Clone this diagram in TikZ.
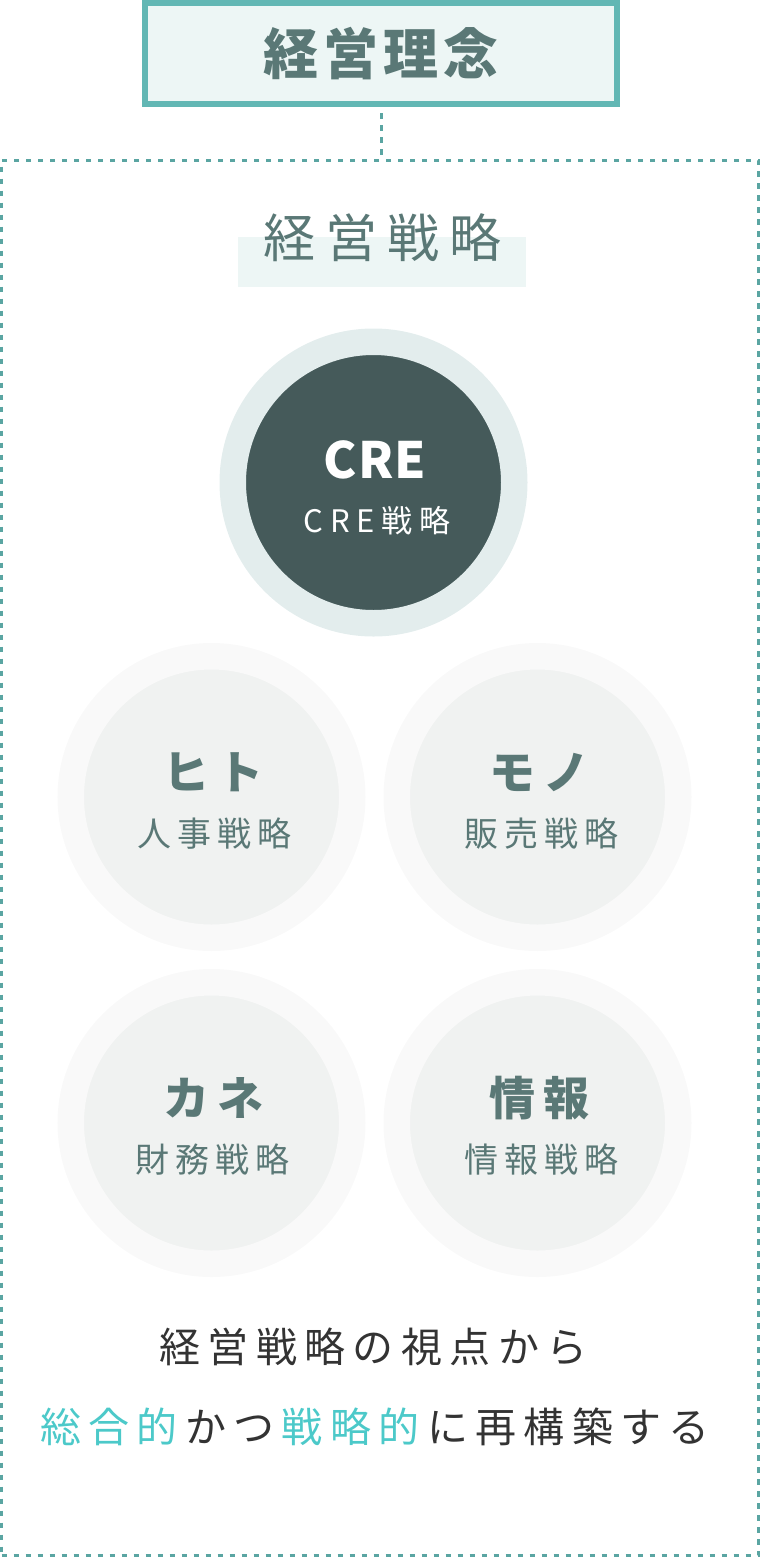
\documentclass[tikz,border=0pt]{standalone}
\usepackage{fontspec}
\usepackage{xcolor}
\newfontfamily\jp{Noto Sans CJK JP}
\newcommand{\fsz}[2]{\fontsize{#1}{#1}\selectfont\addfontfeatures{LetterSpace=#2}}
\definecolor{boxteal}{HTML}{62B7B4}
\definecolor{boxfill}{HTML}{EDF6F5}
\definecolor{dotteal}{HTML}{5AA5A2}
\definecolor{titlecol}{HTML}{5A7876}
\definecolor{creouter}{HTML}{E3EDED}
\definecolor{creinner}{HTML}{455A5A}
\definecolor{subouter}{HTML}{F9F9F9}
\definecolor{subinner}{HTML}{F0F2F1}
\definecolor{bodycol}{HTML}{333333}
\definecolor{accent}{HTML}{4CC9C9}

\begin{document}
\begin{tikzpicture}[x=1pt,y=-1pt,
    every node/.style={inner sep=0pt},
    rinenbox/.style={draw=boxteal,fill=boxfill,line width=6pt,minimum width=472pt,minimum height=101pt},
    waku/.style={draw=dotteal,line width=3pt,dash pattern=on 5.5pt off 6.5pt,minimum width=757pt,minimum height=1395.5pt},
    dotline/.style={draw=dotteal,line width=3pt,dash pattern=on 5.5pt off 6.5pt},
    ring/.style={circle,line width=26.5pt,minimum size=281.5pt},
    crering/.style={ring,draw=creouter,fill=creinner},
    subring/.style={ring,draw=subouter,fill=subinner},
    bigname/.style={text=titlecol,font=\jp\bfseries\fsz{46}{17}},
    subname/.style={text=titlecol,font=\jp\fsz{34}{17}}]
  \useasboundingbox (0,0) rectangle (760,1558);
  \node[waku] (waku) at (380,857.75) {};
  \node[rinenbox,text=titlecol,font=\jp\bfseries\fsz{55}{9}] (rinen) at (381,53.5) {経営理念};
  \draw[dotline,shorten <=6pt,shorten >=3.5pt] (rinen.south) -- (rinen.south |- waku.north);
  \node[fill=boxfill,minimum width=288pt,minimum height=50pt] (hl) at (382,262) {};
  \node[text=titlecol,font=\jp\fsz{52}{19}] (senryaku) at (382.5,238) {経営戦略};
  \node[crering] (cre) at (373.5,482.5) {};
  \node[anchor=base,text=white,font=\jp\bfseries\fsz{50}{2}] (cre1) at (375,478) {CRE};
  \node[anchor=base,text=white,font=\jp\fsz{31}{22}] (cre2) at (377,532) {CRE戦略};
  \node[subring] (hito) at (211.5,797) {};
  \node[subring] (mono) at (537.5,797) {};
  \node[subring] (kane) at (211.5,1123) {};
  \node[subring] (jouhou) at (537.5,1123) {};
  \node[bigname] (hito1) at ([xshift=2pt,yshift=25pt]hito.center) {ヒト};
  \node[subname] (hito2) at ([xshift=3pt,yshift=-37pt]hito.center) {人事戦略};
  \node[bigname] (mono1) at ([xshift=2pt,yshift=25pt]mono.center) {モノ};
  \node[subname] (mono2) at ([xshift=4pt,yshift=-37pt]mono.center) {販売戦略};
  \node[bigname] (kane1) at ([xshift=2pt,yshift=25pt]kane.center) {カネ};
  \node[subname] (kane2) at ([xshift=1pt,yshift=-37pt]kane.center) {財務戦略};
  \node[bigname] (jouhou1) at ([xshift=2pt,yshift=25pt]jouhou.center) {情報};
  \node[subname] (jouhou2) at ([xshift=4pt,yshift=-37pt]jouhou.center) {情報戦略};
  \node[text=bodycol,font=\jp\fsz{41}{18}] (msg1) at (373.5,1347) {経営戦略の視点から};
  \node[text=bodycol,font=\jp\fsz{41}{18}] (msg2) at (375,1427) {{\color{accent}総合的}\kern7.4pt かつ\kern7.4pt{\color{accent}戦略的}\kern7.4pt に再構築する};
\end{tikzpicture}
\end{document}
